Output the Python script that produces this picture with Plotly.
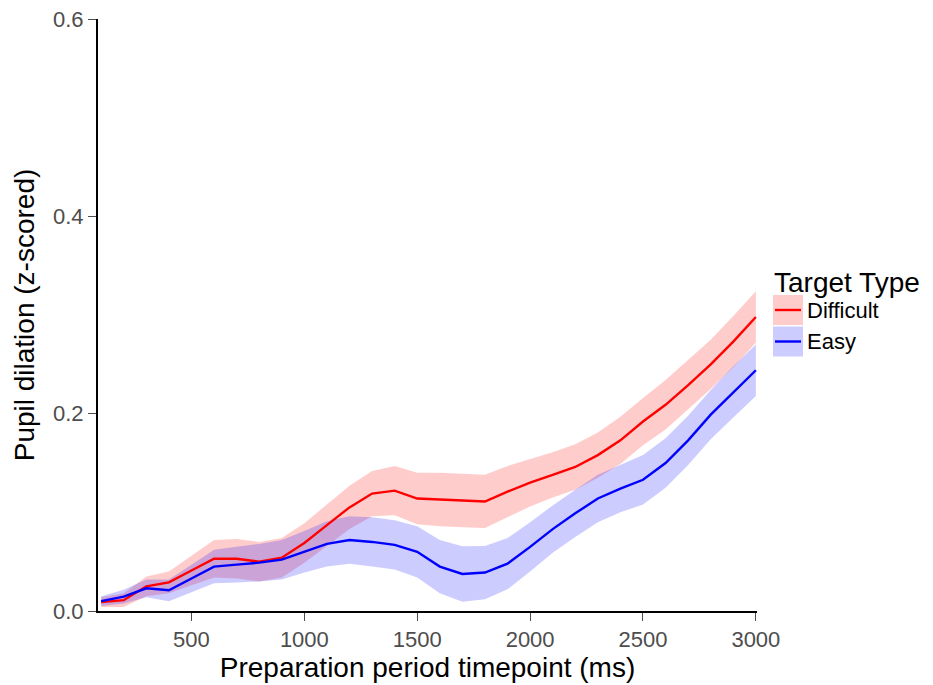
import plotly.graph_objects as go

timepoints = list(range(100, 3100, 100))

difficult_mean = [0.009, 0.011, 0.025, 0.029, 0.041, 0.053, 0.053, 0.050, 0.054, 0.069,
                  0.087, 0.105, 0.119, 0.122, 0.114, 0.113, 0.112, 0.111, 0.121, 0.130,
                  0.138, 0.146, 0.158, 0.173, 0.192, 0.209, 0.229, 0.250, 0.273, 0.298]
difficult_se = [0.005, 0.007, 0.010, 0.011, 0.015, 0.019, 0.020, 0.020, 0.020, 0.020,
                0.021, 0.022, 0.023, 0.025, 0.026, 0.027, 0.027, 0.027, 0.026, 0.024,
                0.023, 0.023, 0.023, 0.024, 0.024, 0.025, 0.025, 0.025, 0.026, 0.026]

easy_mean = [0.010, 0.0145, 0.023, 0.021, 0.033, 0.045, 0.047, 0.049, 0.052, 0.060,
             0.068, 0.072, 0.070, 0.067, 0.060, 0.045, 0.0375, 0.039, 0.048, 0.065,
             0.083, 0.099, 0.114, 0.124, 0.133, 0.150, 0.173, 0.199, 0.222, 0.244]
easy_se = [0.005, 0.007, 0.009, 0.011, 0.014, 0.017, 0.018, 0.019, 0.020, 0.021,
           0.023, 0.024, 0.025, 0.025, 0.026, 0.027, 0.028, 0.027, 0.026, 0.025,
           0.024, 0.024, 0.024, 0.024, 0.025, 0.025, 0.025, 0.025, 0.026, 0.026]

legend_title = "Target Type"
series = [
    ("Difficult", difficult_mean, difficult_se, "#FF0000", "rgba(255,0,0,0.2)"),
    ("Easy", easy_mean, easy_se, "#0000FF", "rgba(0,0,255,0.2)"),
]

W, H = 933, 685
ML, MR, MT, MB = 90, 184, 11, 82
PW, PH = W - ML - MR, H - MT - MB


def px(x):  # figure pixel -> paper x
    return (x - ML) / PW


def py(y):  # figure pixel -> paper y
    return (H - MB - y) / PH


fig = go.Figure()
for name, mean, se, col, fillcol in series:
    upper = [m + s for m, s in zip(mean, se)]
    lower = [m - s for m, s in zip(mean, se)]
    fig.add_trace(go.Scatter(
        x=timepoints + timepoints[::-1], y=upper + lower[::-1],
        fill="toself", fillcolor=fillcol, line=dict(width=0),
        hoverinfo="skip", showlegend=False))
for name, mean, se, col, fillcol in series:
    fig.add_trace(go.Scatter(
        x=timepoints, y=mean, mode="lines", name=name,
        line=dict(color=col, width=2.4), showlegend=False))

font = "Liberation Sans, Arial, sans-serif"

# manual ggplot-style legend
shapes = []
annotations = [dict(
    x=px(764), y=py(274), xref="paper", yref="paper", xanchor="left", yanchor="middle",
    text=legend_title, showarrow=False, font=dict(size=28, color="black", family=font))]
key_top = 287
for i, (name, mean, se, col, fillcol) in enumerate(series):
    y0 = key_top + i * 31.5
    shapes.append(dict(type="rect", xref="paper", yref="paper",
                       x0=px(765), x1=px(795), y0=py(y0), y1=py(y0 + 30),
                       fillcolor=fillcol, line=dict(width=0), layer="above"))
    shapes.append(dict(type="line", xref="paper", yref="paper",
                       x0=px(767), x1=px(793), y0=py(y0 + 15), y1=py(y0 + 15),
                       line=dict(color=col, width=2.4), layer="above"))
    annotations.append(dict(
        x=px(797), y=py(y0 + 15), xref="paper", yref="paper", xanchor="left",
        yanchor="middle", text=name, showarrow=False,
        font=dict(size=22, color="black", family=font)))

fig.update_layout(
    width=W, height=H,
    margin=dict(l=ML, r=MR, t=MT, b=MB),
    plot_bgcolor="white", paper_bgcolor="white",
    font=dict(family=font, size=22, color="#4D4D4D"),
    showlegend=False,
    shapes=shapes, annotations=annotations,
    xaxis=dict(
        range=[86, 3005], tickvals=[500, 1000, 1500, 2000, 2500, 3000],
        showgrid=False, zeroline=False, showline=True, linecolor="black", linewidth=2,
        ticks="outside", ticklen=8, tickcolor="#4D4D4D", automargin=False,
        ticklabeloverflow="allow",
        tickfont=dict(size=22, color="#4D4D4D"),
        title=dict(text="Preparation period timepoint (ms)",
                   font=dict(size=28, color="black"), standoff=4),
    ),
    yaxis=dict(
        range=[0, 0.6], tickvals=[0.0, 0.2, 0.4, 0.6], tickformat=".1f",
        showgrid=False, zeroline=False, showline=True, linecolor="black", linewidth=2,
        ticks="outside", ticklen=8, tickcolor="#4D4D4D", automargin=False,
        ticklabeloverflow="allow",
        tickfont=dict(size=22, color="#4D4D4D"),
        title=dict(text="Pupil dilation (z-scored)",
                   font=dict(size=28, color="black"), standoff=10),
    ),
)

fig.write_html("out.html")
